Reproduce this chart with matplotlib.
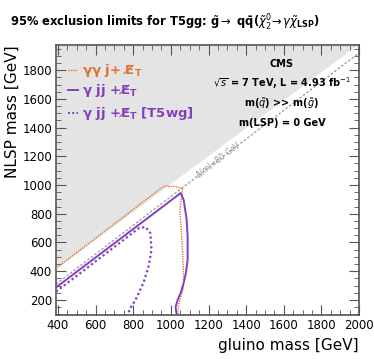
import numpy as np
import matplotlib
matplotlib.use('Agg')
import matplotlib.pyplot as plt
from matplotlib.ticker import MultipleLocator

# gamma gamma j + MET (orange dotted)
gg_x = [390, 956, 975, 995, 1015, 1035, 1063, 1047, 1055, 1063, 1068, 1066, 1052, 1040, 1036]
gg_y = [420, 986, 995, 988, 992, 985, 975, 826, 700, 527, 339, 280, 221, 160, 95]

# gamma jj + MET (purple solid)
gj_x = [390, 1052, 1068, 1084, 1089, 1089, 1080, 1068, 1052, 1036, 1025, 1031]
gj_y = [287, 944, 896, 757, 638, 478, 390, 318, 249, 200, 151, 95]

# gamma jj + MET, T5wg (purple dotted)
wg_x = [390, 517, 830, 865, 891, 897, 881, 854, 812, 785, 770]
wg_y = [258, 385, 700, 708, 666, 548, 430, 318, 200, 144, 95]

# lower edge of the shaded (forbidden) region
edge_x = [390, 2000]
edge_y = [420, 1985]

orange = '#e0722f'
purple = '#8340bd'

fig = plt.figure(figsize=(3.74, 3.59), dpi=100)
ax = fig.add_axes([0.150, 0.1226, 0.810, 0.752])

xlim = (390, 2000)
ylim = (95, 1975)

ax.fill_between(edge_x, edge_y, ylim[1] + 100, color='#e4e4e4', lw=0, zorder=0)
# delta m = 80 GeV line
xf = np.array(xlim)
ax.plot(xf, xf - 80, color='#999999', ls=(0, (2, 1.5)), lw=0.9, zorder=1)
ax.text(1250, 1175, '$\\Delta$(m)=80 GeV', color='#999999', fontsize=5.5,
        rotation=37, ha='center', va='center')

ax.plot(gg_x, gg_y, color=orange, ls=(0, (1, 0.8)), lw=1.0, zorder=3)
ax.plot(gj_x, gj_y, color=purple, ls='-', lw=1.4, zorder=3)
ax.plot(wg_x, wg_y, color=purple, ls=(0, (1, 1.2)), lw=1.6, zorder=3)

ax.set_xlim(*xlim)
ax.set_ylim(*ylim)
ax.xaxis.set_major_locator(MultipleLocator(200))
ax.xaxis.set_minor_locator(MultipleLocator(50))
ax.yaxis.set_major_locator(MultipleLocator(200))
ax.yaxis.set_minor_locator(MultipleLocator(50))
ax.tick_params(which='both', direction='in', top=True, right=True, color='#555555')
ax.tick_params(which='major', length=7, labelsize=8.5, pad=3)
ax.tick_params(which='minor', length=3.5)
for s in ax.spines.values():
    s.set_color('#555555')
    s.set_linewidth(1.2)

ax.set_xlabel('gluino mass [GeV]', fontsize=11, loc='right', labelpad=4)
ax.set_ylabel('NLSP mass [GeV]', fontsize=11, loc='top', labelpad=2)

# legend
met = 'E\u0338$_\\mathbf{T}$'
lx0, lx1, tx = 454, 507, 530
ax.plot([lx0, lx1], [1800, 1800], color=orange, ls=(0, (1, 0.8)), lw=1.0)
ax.text(tx, 1800, 'γγ j+ ' + met, color=orange, fontsize=9.5,
        fontweight='bold', va='center')
ax.plot([lx0, lx1], [1661, 1661], color=purple, ls='-', lw=1.4)
ax.text(tx, 1661, 'γ jj +' + met, color=purple, fontsize=9.5,
        fontweight='bold', va='center')
ax.plot([lx0, lx1], [1500, 1500], color=purple, ls=(0, (1, 1.2)), lw=1.4)
ax.text(tx, 1500, 'γ jj +' + met + ' [T5wg]', color=purple, fontsize=9.5,
        fontweight='bold', va='center')

# CMS labels
cx = 1590
ax.text(cx, 1842, 'CMS', fontsize=7, fontweight='bold', ha='center', va='center')
ax.text(cx, 1710, '$\\sqrt{s}$ = 7 TeV, L = 4.93 fb$^{-1}$', fontsize=7, fontweight='bold',
        ha='center', va='center')
ax.text(cx, 1570, 'm($\\tilde{q}$) >> m($\\tilde{g}$)', fontsize=7, fontweight='bold',
        ha='center', va='center')
ax.text(cx, 1431, 'm(LSP) = 0 GeV', fontsize=7, fontweight='bold', ha='center', va='center')

fig.text(0.027, 0.935,
         '95% exclusion limits for T5gg: $\\tilde{\\mathbf{g}}\\rightarrow$ '
         '$\\mathbf{q\\bar{q}}$($\\tilde{\\chi}^{0}_{2}\\!\\rightarrow\\gamma\\tilde{\\chi}_{\\mathbf{LSP}}$)',
         fontsize=8.3, fontweight='bold', va='center')

fig.savefig('out.png', dpi=100)
